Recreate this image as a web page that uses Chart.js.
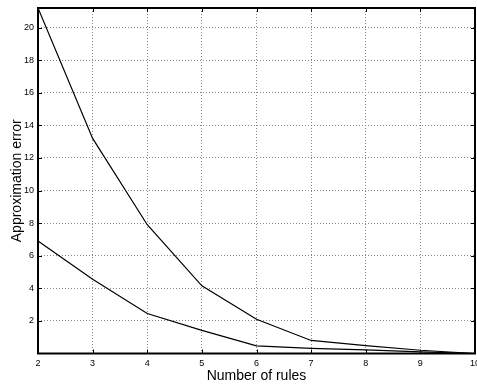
<!DOCTYPE html>
<html>
<head>
<meta charset="utf-8">
<script src="https://cdn.jsdelivr.net/npm/chart.js@4/dist/chart.umd.min.js"></script>
<style>
  html, body { margin: 0; padding: 0; background: #fff; }
  #wrap { width: 477px; height: 385px; }
</style>
</head>
<body>
<div id="wrap"><canvas id="err-chart"></canvas></div>
<script>
// number of rules on the x axis
var rules = [2, 3, 4, 5, 6, 7, 8, 9, 10];
// the two error curves
var upperErr = [21.2, 13.2, 7.9, 4.15, 2.1, 0.8, 0.48, 0.2, 0.0];
var lowerErr = [6.9, 4.55, 2.45, 1.42, 0.47, 0.32, 0.22, 0.1, 0.0];
var yTicks = [2, 4, 6, 8, 10, 12, 14, 16, 18, 20];

function points(vals){
    var out = [];
    rules.forEach(function(r, i){ out.push({x: r, y: vals[i]}); });
    return out;
}

// box round the plot area plus inward tick marks (matlab style)
var boxPlugin = {
    id: 'box',
    afterDraw: function(chart){
        var ctx = chart.ctx, a = chart.chartArea;
        var xs = chart.scales.x, ys = chart.scales.y;
        ctx.save();
        ctx.strokeStyle = '#000';
        ctx.lineWidth = 1;
        rules.forEach(function(r){
            var px = Math.round(xs.getPixelForValue(r)) + 0.5;
            ctx.beginPath();
            ctx.moveTo(px, a.bottom); ctx.lineTo(px, a.bottom - 4);
            ctx.moveTo(px, a.top); ctx.lineTo(px, a.top + 4);
            ctx.stroke();
        });
        yTicks.forEach(function(v){
            var py = Math.round(ys.getPixelForValue(v)) + 0.5;
            ctx.beginPath();
            ctx.moveTo(a.left, py); ctx.lineTo(a.left + 4, py);
            ctx.moveTo(a.right, py); ctx.lineTo(a.right - 4, py);
            ctx.stroke();
        });
        ctx.lineWidth = 2;
        ctx.strokeRect(a.left, a.top, a.right - a.left, a.bottom - a.top);
        ctx.restore();
    }
};

var ctx = document.getElementById('err-chart').getContext('2d');
window.ErrChart = new Chart(ctx, {
    type: 'line',
    data: {
        datasets: [{
            data: points(upperErr),
            borderColor: '#000',
            borderWidth: 1.2,
            pointRadius: 0,
            tension: 0,
            fill: false
        }, {
            data: points(lowerErr),
            borderColor: '#000',
            borderWidth: 1.2,
            pointRadius: 0,
            tension: 0,
            fill: false
        }]
    },
    options: {
        responsive: true,
        maintainAspectRatio: false,
        animation: false,
        layout: { padding: { top: 8, right: 2, left: 0, bottom: 0 } },
        plugins: {
            legend: { display: false },
            tooltip: { enabled: false }
        },
        scales: {
            x: {
                type: 'linear',
                min: 2,
                max: 10,
                ticks: {
                    stepSize: 1,
                    padding: 5,
                    color: '#000',
                    maxRotation: 0,
                    font: { family: 'Liberation Sans, Arial', size: 9 }
                },
                grid: { color: '#888', drawTicks: false, lineWidth: 1 },
                border: { display: false, dash: [1, 2] },
                title: {
                    display: true,
                    text: 'Number of rules',
                    color: '#000',
                    padding: { top: 0, bottom: 0 },
                    font: { family: 'Liberation Sans, Arial', size: 14 }
                },
                afterFit: function(s){
                    s.height = 31.5;
                    s.paddingLeft = 0;
                    s.paddingRight = 0;
                }
            },
            y: {
                min: 0,
                max: 21.2,
                ticks: {
                    stepSize: 2,
                    includeBounds: false,
                    padding: 4,
                    color: '#000',
                    font: { family: 'Liberation Sans, Arial', size: 9 },
                    callback: function(v){ return v === 0 ? '' : v; }
                },
                grid: { color: '#888', drawTicks: false, lineWidth: 1 },
                border: { display: false, dash: [1, 2] },
                title: {
                    display: true,
                    text: 'Approximation error',
                    color: '#000',
                    padding: { top: 8.5, bottom: 0 },
                    font: { family: 'Liberation Sans, Arial', size: 14 }
                },
                afterFit: function(s){
                    s.width = 38;
                    s.paddingTop = 0;
                    s.paddingBottom = 0;
                }
            }
        }
    },
    plugins: [boxPlugin]
});
</script>
</body>
</html>
